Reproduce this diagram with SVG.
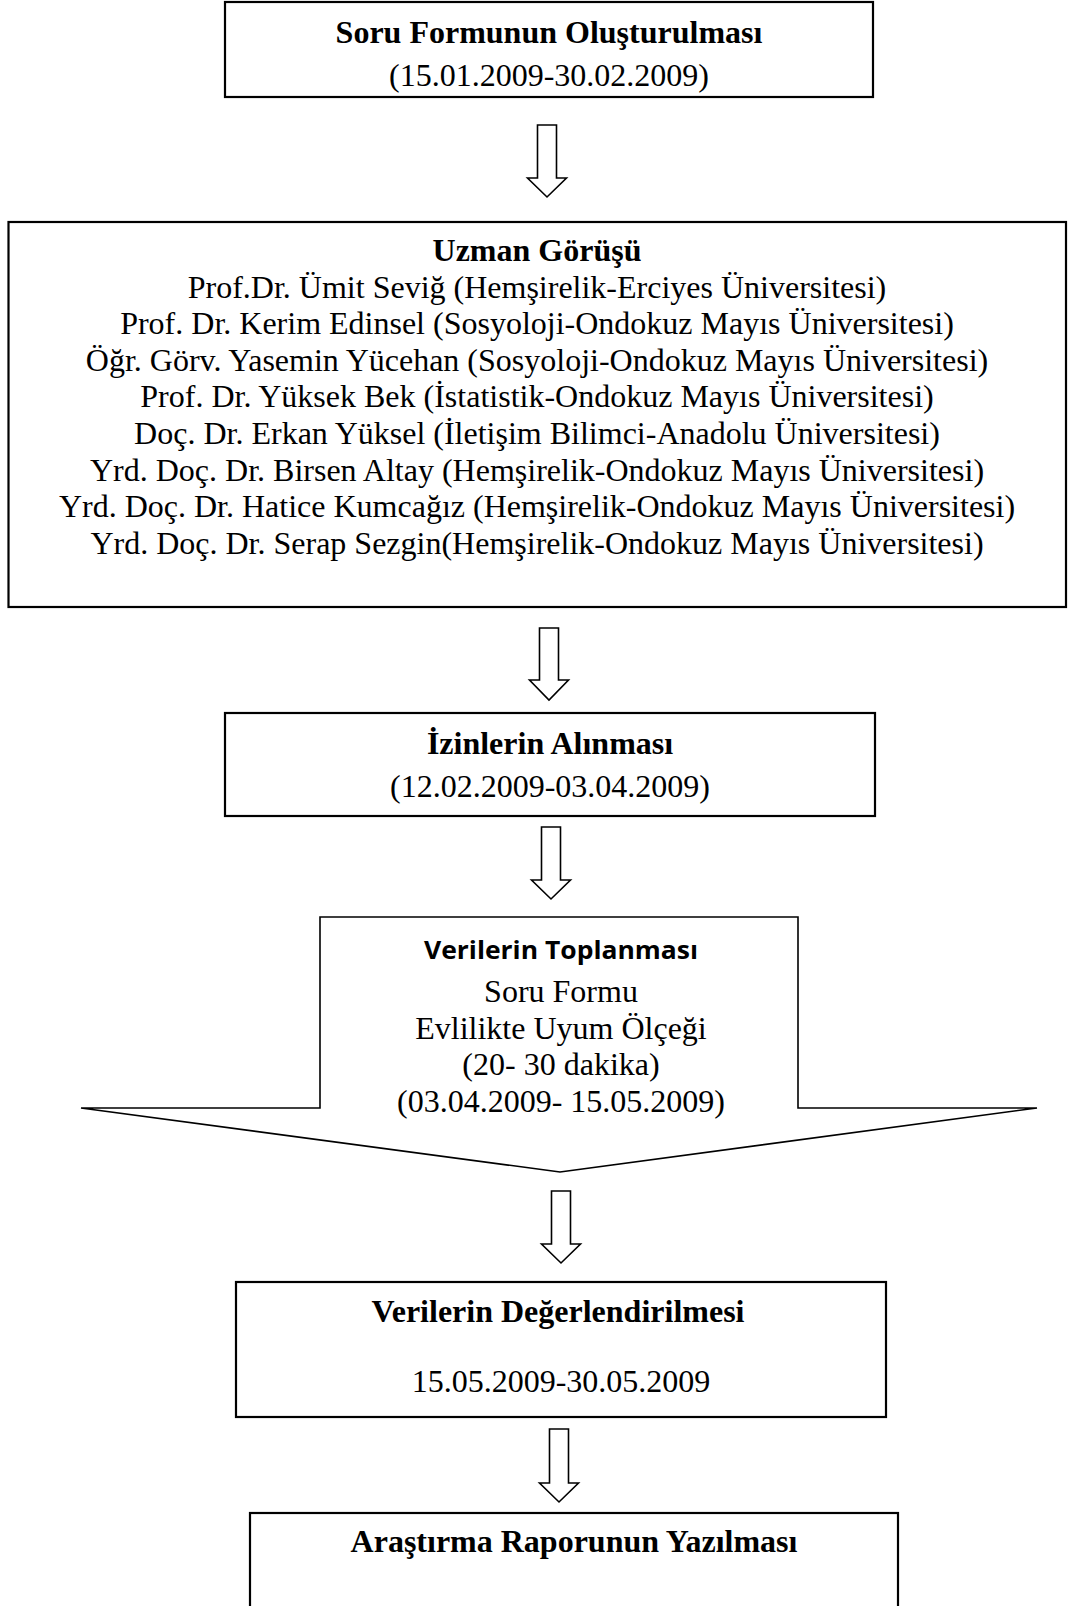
<svg xmlns="http://www.w3.org/2000/svg" width="1071" height="1606" viewBox="0 0 1071 1606">
<style>
  .box{fill:#fff;stroke:#000;stroke-width:2.2}
  .pent{fill:#fff;stroke:#000;stroke-width:1.6;stroke-linejoin:miter}
  .arr{fill:#fff;stroke:#000;stroke-width:1.6;stroke-linejoin:miter}
  text{font-family:"Liberation Serif","Times New Roman",serif;font-size:32px;fill:#000;text-anchor:middle}
  .b{font-weight:bold}
  .sans{font-family:"Open Sans","Liberation Sans",sans-serif;font-weight:bold;font-size:25px}
</style>
<rect width="1071" height="1606" fill="#fff"/>
<g id="connectors">
  <polygon class="arr" points="537.5,125 556.5,125 556.5,178 566.5,178 547,197 527.5,178 537.5,178"/>
  <polygon class="arr" points="539.5,628 558.5,628 558.5,680 568.5,680 549,700 529.5,680 539.5,680"/>
  <polygon class="arr" points="541.5,827 560.5,827 560.5,880 570.5,880 551,899 531.5,880 541.5,880"/>
  <polygon class="arr" points="551.5,1191 570.5,1191 570.5,1244 580.5,1244 561,1263 541.5,1244 551.5,1244"/>
  <polygon class="arr" points="549.5,1429 568.5,1429 568.5,1483 578.5,1483 559,1502 539.5,1483 549.5,1483"/>
</g>
<g id="node-soru-formu">
  <rect class="box" x="225" y="2" width="648" height="95"/>
  <text class="b" x="549" y="43">Soru Formunun Oluşturulması</text>
  <text x="549" y="86">(15.01.2009-30.02.2009)</text>
</g>
<g id="node-uzman">
  <rect class="box" x="8.5" y="222" width="1057.5" height="385"/>
  <text class="b" x="537" y="261">Uzman Görüşü</text>
  <text x="537" y="297.6">Prof.Dr. Ümit Seviğ (Hemşirelik-Erciyes Üniversitesi)</text>
  <text x="537" y="334.2">Prof. Dr. Kerim Edinsel (Sosyoloji-Ondokuz Mayıs Üniversitesi)</text>
  <text x="537" y="370.8">Öğr. Görv. Yasemin Yücehan (Sosyoloji-Ondokuz Mayıs Üniversitesi)</text>
  <text x="537" y="407.4">Prof. Dr. Yüksek Bek (İstatistik-Ondokuz Mayıs Üniversitesi)</text>
  <text x="537" y="444">Doç. Dr. Erkan Yüksel (İletişim Bilimci-Anadolu Üniversitesi)</text>
  <text x="537" y="480.6">Yrd. Doç. Dr. Birsen Altay (Hemşirelik-Ondokuz Mayıs Üniversitesi)</text>
  <text x="537" y="517.2">Yrd. Doç. Dr. Hatice Kumcağız (Hemşirelik-Ondokuz Mayıs Üniversitesi)</text>
  <text x="537" y="553.8">Yrd. Doç. Dr. Serap Sezgin(Hemşirelik-Ondokuz Mayıs Üniversitesi)</text>
</g>
<g id="node-izinler">
  <rect class="box" x="225" y="713" width="650" height="103"/>
  <text class="b" x="550" y="754">İzinlerin Alınması</text>
  <text x="550" y="797">(12.02.2009-03.04.2009)</text>
</g>
<g id="node-veri-toplama">
  <polygon class="pent" points="320,917 798,917 798,1108 1037,1108 560,1172 81,1108 320,1108"/>
  <text class="sans" x="561" y="959" textLength="274" lengthAdjust="spacingAndGlyphs">Verilerin Toplanması</text>
  <text x="561" y="1002">Soru Formu</text>
  <text x="561" y="1038.5">Evlilikte Uyum Ölçeği</text>
  <text x="561" y="1075">(20- 30 dakika)</text>
  <text x="561" y="1111.5">(03.04.2009- 15.05.2009)</text>
</g>
<g id="node-degerlendirme">
  <rect class="box" x="236" y="1282" width="650" height="135"/>
  <text class="b" x="558" y="1322">Verilerin Değerlendirilmesi</text>
  <text x="561" y="1392">15.05.2009-30.05.2009</text>
</g>
<g id="node-rapor">
  <rect class="box" x="250" y="1513" width="648" height="110"/>
  <text class="b" x="574" y="1552">Araştırma Raporunun Yazılması</text>
</g>
</svg>
